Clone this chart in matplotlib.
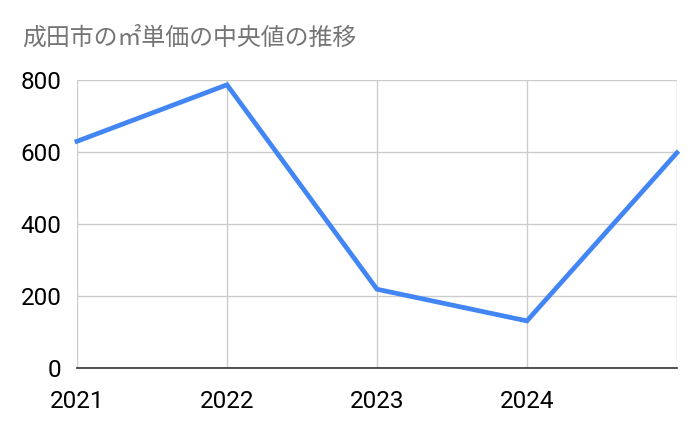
import matplotlib
matplotlib.use("Agg")
import matplotlib.pyplot as plt

# data
years = [2021, 2022, 2023, 2024, 2025]
values = [630, 787, 219, 131, 598]
x_labels = ["2021", "2022", "2023", "2024", ""]
y_ticks = [0, 200, 400, 600, 800]
title = "成田市の㎡単価の中央値の推移"

fig = plt.figure(figsize=(7, 4.33), dpi=100)
ax = fig.add_axes([0.11, 0.150, 0.857, 0.665])

ax.plot(years, values, color="#4285F4", linewidth=3.4, solid_joinstyle="miter",
        clip_on=False, zorder=3)

ax.set_xlim(years[0], years[-1])
ax.set_ylim(0, 800)
ax.set_xticks(years)
ax.set_xticklabels(x_labels, fontfamily="Roboto", fontsize=17.5)
ax.set_yticks(y_ticks)
ax.set_yticklabels([str(v) for v in y_ticks], fontfamily="Roboto", fontsize=17.5)
ax.tick_params(length=0)
ax.tick_params(axis="y", pad=11)
ax.tick_params(axis="x", pad=16)

ax.grid(True, color="#cccccc", linewidth=1)
for s in ["top", "right", "left"]:
    ax.spines[s].set_visible(False)
ax.spines["bottom"].set_color("#333333")
ax.spines["bottom"].set_linewidth(1.2)
ax.spines["bottom"].set_zorder(4)

fig.text(0.031, 0.912, title, fontsize=17.2, color="#757575",
         family=["Noto Sans CJK JP", "DejaVu Sans"], va="center", ha="left")

fig.savefig("out.png", dpi=100)
